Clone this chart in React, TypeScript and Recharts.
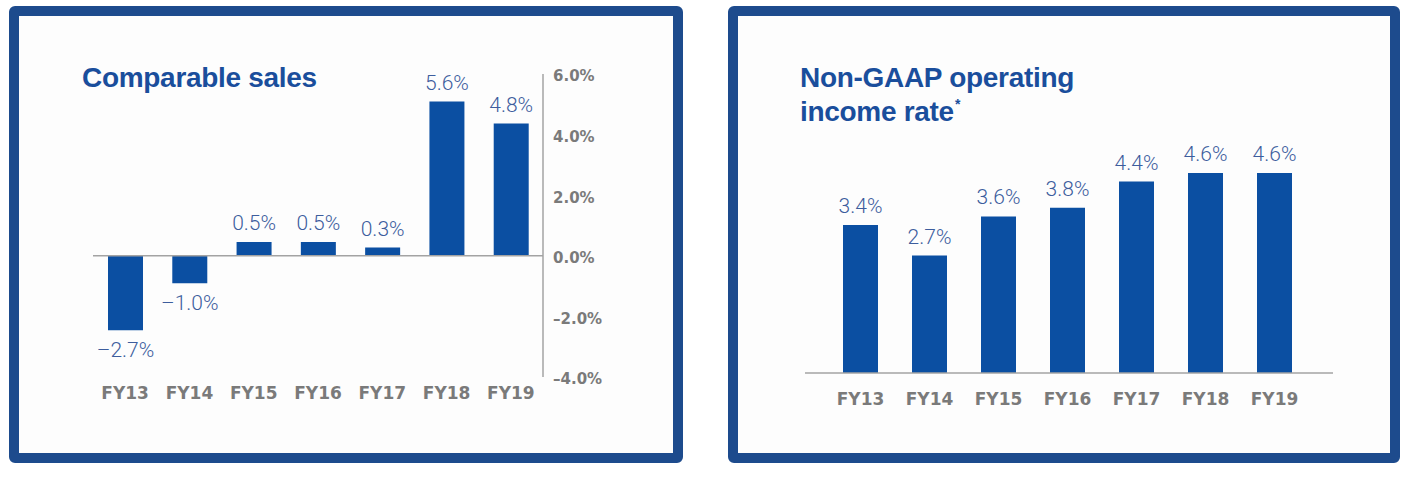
import React from "react";
import { BarChart, Bar, XAxis, YAxis, LabelList, ReferenceLine } from "recharts";

// fiscal years shown on both charts
const years = ["FY13", "FY14", "FY15", "FY16", "FY17", "FY18", "FY19"];
// comparable sales growth, %
const comparableSales = [-2.7, -1.0, 0.5, 0.5, 0.3, 5.6, 4.8];
// non-GAAP operating income rate, %
const operatingRate = [3.4, 2.7, 3.6, 3.8, 4.4, 4.6, 4.6];
// ticks printed on the comparable sales axis
const salesTicks = [-4, -2, 0, 2, 4, 6];

const salesData = years.map((year, i) => ({ year, value: comparableSales[i] }));
const rateData = years.map((year, i) => ({ year, value: operatingRate[i] }));

const BAR = "#0b4fa2";
const TITLE = "#1a4e9c";
const FRAME = "#1d4b8d";
const VALUE = "#3d5d9d";
const TICK = "#7a7a7a";
const LINE = "#a3a3a3";

const fmt = (v: number) => (v < 0 ? "\u2013" : "") + Math.abs(v).toFixed(1) + "%";

const valueLabel = {
  fill: VALUE,
  fontFamily: "Roboto, 'Open Sans', sans-serif",
  fontWeight: 300,
  fontSize: 21,
};

const tickStyle = {
  fill: TICK,
  fontFamily: "'DejaVu Sans', sans-serif",
  fontWeight: 700,
  fontSize: 17,
};

const titleStyle: React.CSSProperties = {
  position: "absolute",
  color: TITLE,
  fontFamily: "'Liberation Sans', Arial, sans-serif",
  fontWeight: 700,
  fontSize: 28,
  letterSpacing: -0.3,
  margin: 0,
};

const panel = (left: number, width: number): React.CSSProperties => ({
  position: "absolute",
  left,
  top: 6,
  width,
  height: 457,
  border: `10px solid ${FRAME}`,
  borderRadius: 6,
  boxSizing: "border-box",
  background: "#fdfdfd",
});

const App: React.FC = () => {
  return (
    <div style={{ position: "absolute", left: 0, top: 0, width: 1411, height: 477, background: "#fff" }}>
      <div style={panel(9, 674)} />
      <div style={panel(728, 672)} />

      <div style={{ ...titleStyle, left: 82, top: 64, lineHeight: "28px" }}>Comparable sales</div>
      <div style={{ ...titleStyle, left: 800, top: 61, lineHeight: "34px" }}>
        Non-GAAP operating
        <br />
        income rate
        <span style={{ fontSize: 14, position: "relative", top: -12, marginLeft: 1 }}>*</span>
      </div>

      {/* left: comparable sales */}
      <div style={{ position: "absolute", left: 20, top: 16 }}>
        <BarChart width={652} height={436} data={salesData} margin={{ top: 58, right: 69, bottom: 45, left: 73 }}>
          <XAxis
            dataKey="year"
            axisLine={false}
            tickLine={false}
            tickSize={0}
            tickMargin={10}
            height={30}
            tick={tickStyle}
            interval={0}
          />
          <YAxis yAxisId="bars" type="number" domain={[-4.4, 6.6]} allowDataOverflow hide />
          <YAxis
            yAxisId="ticks"
            orientation="right"
            type="number"
            domain={[-4, 6]}
            ticks={salesTicks}
            allowDataOverflow
            width={60}
            axisLine={{ stroke: LINE, strokeWidth: 1.5 }}
            tickLine={false}
            tickSize={0}
            tickMargin={10}
            tick={{ ...tickStyle, fontSize: 15, dy: 2 }}
            tickFormatter={fmt}
          />
          <ReferenceLine yAxisId="bars" y={0} stroke={LINE} strokeWidth={1.5} />
          <Bar yAxisId="bars" dataKey="value" fill={BAR} barSize={35} isAnimationActive={false}>
            <LabelList dataKey="value" position="top" offset={12} formatter={fmt} style={valueLabel} />
          </Bar>
        </BarChart>
      </div>

      {/* right: non-GAAP operating income rate */}
      <div style={{ position: "absolute", left: 738, top: 16 }}>
        <BarChart width={652} height={436} data={rateData} margin={{ top: 139.5, right: 57, bottom: 49, left: 67 }}>
          <XAxis
            dataKey="year"
            padding={{ left: 21, right: 24 }}
            axisLine={{ stroke: LINE, strokeWidth: 1.5 }}
            tickLine={false}
            tickSize={0}
            tickMargin={20}
            height={30}
            tick={tickStyle}
            interval={0}
          />
          <YAxis type="number" domain={[0, 5]} allowDataOverflow hide />
          <Bar dataKey="value" fill={BAR} barSize={35} isAnimationActive={false}>
            <LabelList dataKey="value" position="top" offset={12} formatter={fmt} style={valueLabel} />
          </Bar>
        </BarChart>
      </div>
    </div>
  );
};

export default App;
